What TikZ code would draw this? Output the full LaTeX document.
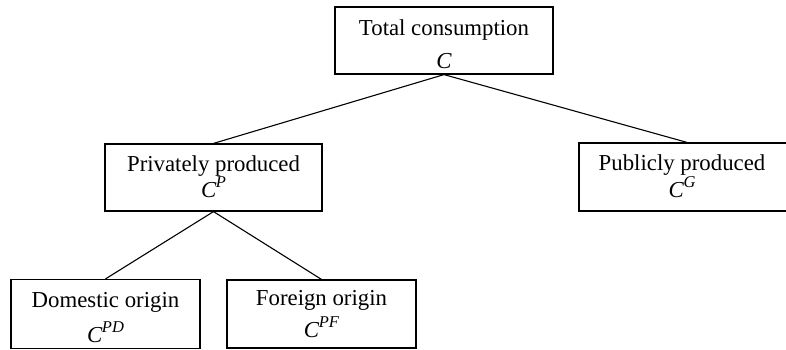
\documentclass[tikz,border=0pt]{standalone}
\usepackage{fontspec}
\setmainfont{Liberation Serif}
\newcommand\csup[1]{\textit{C}\kern-0.5pt\raisebox{10pt}{\fontsize{16.5}{16.5}\selectfont\itshape #1}}
\begin{document}
\begin{tikzpicture}[x=1pt,y=-1pt,
  box/.style={draw=black,line width=1.2pt,rectangle,inner sep=0pt},
  lbl/.style={inner sep=0pt,align=center,font=\fontsize{22.8}{25}\selectfont},
  link/.style={draw=black,line width=1.1pt}]
\useasboundingbox (0,0) rectangle (786,350);
\clip (0,0) rectangle (786,350);
% boxes
\node[box,minimum width=218,minimum height=67] (top) at (444,40.5) {};
\node[box,minimum width=217,minimum height=67] (priv) at (213.5,177.5) {};
\node[box,minimum width=216,minimum height=68] (pub) at (687,177) {};
\node[box,minimum width=189,minimum height=69] (dom) at (105.5,314) {};
\node[box,minimum width=189,minimum height=68] (for) at (321.5,314) {};
% labels
\node[lbl] (topL) at (444,44) {Total consumption\\[7.6pt]\textit{C}};
\node[lbl] (privL) at (213.5,176.7) {Privately produced\\\csup{P}};
\node[lbl] (pubL) at (682,176.4) {Publicly produced\\\csup{G}};
\node[lbl] (domL) at (105.5,317.5) {Domestic origin\\[7.4pt]\csup{PD}};
\node[lbl] (forL) at (321.5,314.2) {Foreign origin\\[5.6pt]\csup{PF}};
% connectors
\draw[link] (top.south) -- (priv.north);
\draw[link] (top.south) -- (pub.north);
\draw[link] (priv.south) -- (dom.north);
\draw[link] (priv.south) -- (for.north);
\end{tikzpicture}
\end{document}
